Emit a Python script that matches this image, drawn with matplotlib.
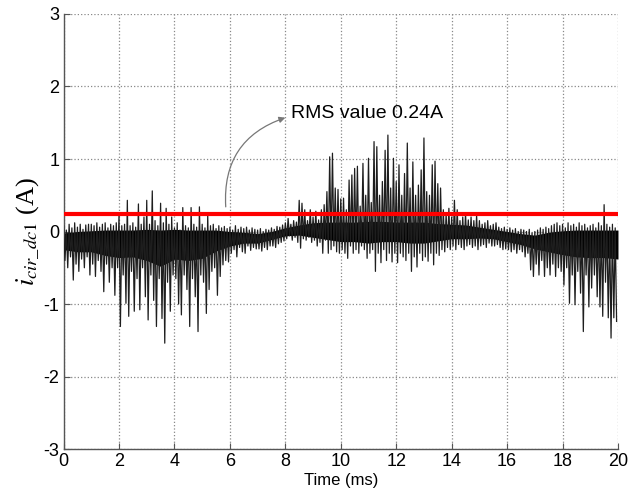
import numpy as np
import matplotlib
matplotlib.use('Agg')
import matplotlib.pyplot as plt

# peak values of the spiky current, one pair per 0.1 ms bin
spike_hi = [
    0.08, 0.02, 0.10, 0.05, 0.12, 0.06, 0.10, 0.03, 0.09, 0.10,   # 0-1 ms
    0.10, 0.08, 0.12, 0.06, 0.10, 0.12, 0.05, 0.10, 0.08, 0.12,   # 1-2
    0.23, 0.08, 0.10, 0.43, 0.08, 0.12, 0.06, 0.38, 0.10, 0.20,   # 2-3
    0.43, 0.10, 0.56, 0.15, 0.08, 0.39, 0.12, 0.32, 0.10, 0.20,   # 3-4
    0.05, 0.12, 0.02, 0.33, 0.08, 0.05, 0.33, 0.10, 0.06, 0.34,   # 4-5
    0.10, 0.05, 0.23, 0.08, 0.10, 0.04, 0.08, 0.05, 0.07, 0.04,   # 5-6
    0.06, 0.02, 0.08, 0.03, 0.06, 0.04, 0.06, 0.02, 0.05, 0.03,   # 6-7
    0.02, 0.04, 0.00, 0.03, 0.02, 0.05, 0.03, 0.07, 0.06, 0.09,   # 7-8
    0.12, 0.18, 0.10, 0.15, 0.13, 0.43, 0.39, 0.30, 0.15, 0.30,   # 8-9
    0.20, 0.28, 0.16, 0.30, 0.37, 0.55, 1.03, 1.08, 0.60, 0.58,   # 9-10
    0.45, 0.46, 0.30, 0.71, 0.78, 0.87, 0.90, 0.35, 0.94, 0.50,   # 10-11
    1.01, 0.40, 1.24, 1.17, 0.50, 0.69, 1.12, 1.33, 0.60, 1.01,   # 11-12
    0.69, 0.92, 0.50, 0.80, 1.22, 0.60, 0.96, 0.50, 0.64, 0.85,   # 12-13
    1.29, 0.55, 0.50, 0.92, 0.97, 0.66, 0.60, 0.30, 0.25, 0.32,   # 13-14
    0.20, 0.43, 0.30, 0.15, 0.20, 0.25, 0.16, 0.20, 0.15, 0.22,   # 14-15
    0.15, 0.10, 0.12, 0.15, 0.08, 0.10, 0.12, 0.06, 0.04, 0.06,   # 15-16
    0.03, 0.05, 0.02, 0.04, 0.00, 0.03, 0.02, 0.00, 0.03, -0.02,  # 16-17
    0.00, 0.02, 0.05, 0.03, 0.06, 0.04, 0.08, 0.10, 0.12, 0.08,   # 17-18
    0.10, 0.05, 0.12, 0.08, 0.10, 0.06, 0.12, 0.08, 0.10, 0.05,   # 18-19
    0.08, 0.10, 0.05, 0.12, 0.08, 0.37, 0.10, 0.06, 0.10, 0.05,   # 19-20
]
spike_lo = [
    -0.40, -0.50, -0.35, -0.67, -0.45, -0.55, -0.38, -0.50, -0.35, -0.60,
    -0.45, -0.62, -0.40, -0.55, -0.83, -0.45, -0.70, -0.50, -0.88, -0.50,
    -1.31, -0.60, -0.99, -1.17, -0.55, -1.10, -0.65, -1.08, -0.50, -0.90,
    -1.22, -0.60, -0.95, -1.31, -0.65, -1.20, -1.54, -0.70, -1.10, -0.60,
    -0.65, -1.00, -1.15, -0.60, -0.80, -1.31, -0.65, -0.90, -1.38, -0.60,
    -0.70, -1.13, -0.80, -0.55, -0.50, -0.88, -0.62, -0.46, -0.40, -0.42,
    -0.30, -0.25, -0.35, -0.22, -0.28, -0.30, -0.20, -0.26, -0.22, -0.24,
    -0.24, -0.27, -0.22, -0.25, -0.20, -0.20, -0.22, -0.17, -0.15, -0.13,
    -0.10, -0.06, -0.12, -0.08, -0.15, -0.23, -0.10, -0.12, -0.08, -0.15,
    -0.12, -0.20, -0.15, -0.30, -0.12, -0.30, -0.25, -0.20, -0.28, -0.30,
    -0.25, -0.30, -0.37, -0.20, -0.30, -0.25, -0.30, -0.20, -0.25, -0.37,
    -0.30, -0.25, -0.55, -0.30, -0.43, -0.25, -0.40, -0.30, -0.42, -0.30,
    -0.43, -0.30, -0.35, -0.40, -0.30, -0.55, -0.35, -0.49, -0.30, -0.40,
    -0.35, -0.41, -0.30, -0.46, -0.30, -0.33, -0.25, -0.28, -0.22, -0.25,
    -0.20, -0.25, -0.18, -0.22, -0.25, -0.20, -0.18, -0.22, -0.20, -0.25,
    -0.20, -0.18, -0.22, -0.16, -0.20, -0.20, -0.18, -0.22, -0.25, -0.24,
    -0.25, -0.28, -0.25, -0.30, -0.25, -0.28, -0.35, -0.30, -0.53, -0.62,
    -0.45, -0.60, -0.40, -0.62, -0.50, -0.60, -0.45, -0.62, -0.50, -0.55,
    -0.74, -0.50, -0.99, -0.60, -1.01, -0.55, -0.85, -1.38, -0.60, -1.04,
    -0.78, -0.60, -0.90, -1.04, -1.17, -0.70, -1.19, -1.47, -1.19, -1.24,
]

# dense black core of the waveform, every 0.5 ms
core_t = np.arange(41) * 0.5
core_top = [-0.02, 0.00, 0.01, 0.02, 0.02, 0.02, 0.03, 0.02, 0.03, 0.02,
            0.02, 0.02, 0.00, -0.01, -0.03, 0.00, 0.05, 0.09, 0.12, 0.13,
            0.13, 0.13, 0.14, 0.14, 0.13, 0.13, 0.13, 0.11, 0.10, 0.09,
            0.06, 0.03, 0.00, -0.03, -0.05, -0.01, 0.01, 0.02, 0.02, 0.02, 0.02]
core_bot = [-0.25, -0.28, -0.28, -0.33, -0.36, -0.35, -0.40, -0.48, -0.38, -0.40,
            -0.37, -0.27, -0.20, -0.16, -0.16, -0.11, -0.06, -0.05, -0.08, -0.11,
            -0.14, -0.14, -0.16, -0.14, -0.14, -0.16, -0.16, -0.13, -0.10, -0.10,
            -0.09, -0.10, -0.14, -0.18, -0.24, -0.28, -0.32, -0.35, -0.36, -0.36, -0.38]

rms_value = 0.24

t_bins = np.arange(len(spike_hi)) * 0.1
t_sig = np.empty(2 * len(t_bins))
i_sig = np.empty(2 * len(t_bins))
t_sig[0::2] = t_bins
t_sig[1::2] = t_bins + 0.05
i_sig[0::2] = spike_hi
i_sig[1::2] = spike_lo

plt.rcParams['font.family'] = 'Liberation Sans'
plt.rcParams['mathtext.fontset'] = 'stix'
plt.rcParams['axes.unicode_minus'] = False

fig = plt.figure(figsize=(6.39, 4.91), dpi=100)
ax = fig.add_axes([0.0995, 0.0855, 0.8676, 0.886])

ax.fill_between(core_t, core_bot, core_top, color='black', lw=0, zorder=2)
ax.plot(t_sig, i_sig, color='#1e1e1e', lw=0.9, zorder=3)
ax.plot([0, 20], [rms_value, rms_value], color='red', lw=3, zorder=4)

ax.annotate('', xy=(8.0, 1.57), xytext=(5.85, 0.34),
            arrowprops=dict(arrowstyle='-|>', color='#777777', lw=0.9,
                            mutation_scale=9, shrinkA=0, shrinkB=0,
                            connectionstyle='arc3,rad=-0.38'))
ax.text(8.2, 1.63, 'RMS value 0.24A', fontsize=14, va='center', ha='left')

ax.set_xlim(0, 20)
ax.set_ylim(-3, 3)
ax.set_xticks(np.arange(0, 21, 2))
ax.set_yticks(np.arange(-3, 4, 1))
ax.grid(True, linestyle=':', color='#888888', lw=0.9)
ax.set_axisbelow(True)

for s in ['top', 'right']:
    ax.spines[s].set_visible(False)
for s in ['left', 'bottom']:
    ax.spines[s].set_color('#555555')
    ax.spines[s].set_linewidth(1.0)
ax.tick_params(direction='in', length=4, labelsize=13, color='#555555', pad=3)

ax.set_xlabel('Time (ms)', fontsize=12, labelpad=2)
ax.set_ylabel(r'$i_{cir\_dc1}$ (A)', fontsize=19, family='Liberation Serif', labelpad=1)

fig.savefig('out.png', dpi=100)
